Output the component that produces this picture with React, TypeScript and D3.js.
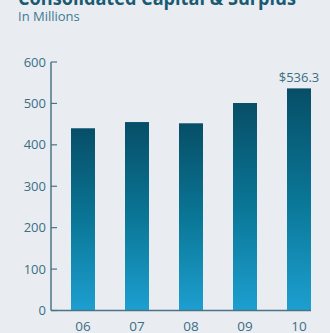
import React from "react";
import * as d3 from "d3";

const years = ["06", "07", "08", "09", "10"];
const values = [440, 455, 452, 501, 536.3];
const yTicks = [0, 100, 200, 300, 400, 500, 600];
const title = "Consolidated Capital & Surplus";
const subtitle = "In Millions";
const lastLabel = "$536.3";

export default function App() {
  const W = 330, H = 333;
  const x = d3.scaleBand<string>().domain(years).range([44, 338]).paddingInner(30 / 54).paddingOuter(0.5);
  const y = d3.scaleLinear().domain([0, 600]).range([310.5, 62]);
  const textColor = "#3b6e85";
  const axisColor = "#4a7486";
  const font = "'Open Sans', 'Noto Sans', sans-serif";
  return (
    <svg width={W} height={H} style={{ position: "absolute", left: 0, top: 0, background: "#e9edf2" }} fontFamily={font}>
      <defs>
        <linearGradient id="barGrad" x1="0" y1="0" x2="0" y2="1">
          <stop offset="0%" stopColor="#074e67" />
          <stop offset="50%" stopColor="#0a7696" />
          <stop offset="100%" stopColor="#1d9fd0" />
        </linearGradient>
      </defs>
      <rect x={0} y={0} width={W} height={H} fill="#e9edf2" />
      <text x={18} y={5} fontSize={20} fontWeight="bold" fill="#1b5a73" textLength={278} lengthAdjust="spacingAndGlyphs">{title}</text>
      <text x={18} y={21} fontSize={13} fill="#3f7a90">{subtitle}</text>
      {values.map((v, i) => (
        <rect key={years[i]} x={x(years[i])} width={x.bandwidth()} y={y(v)} height={y(0) - y(v)} fill="url(#barGrad)" />
      ))}
      <line x1={51} x2={51} y1={y(600)} y2={y(0)} stroke={axisColor} strokeWidth={1.5} />
      <line x1={51} x2={(x(years[4]) as number) + x.bandwidth()} y1={y(0)} y2={y(0)} stroke={axisColor} strokeWidth={1.5} />
      {yTicks.map(t => (
        <g key={t}>
          <line x1={51} x2={57} y1={y(t)} y2={y(t)} stroke={axisColor} strokeWidth={1.2} />
          <text x={46} y={y(t) + 4.5} fontSize={13} textAnchor="end" fill={textColor}>{t}</text>
        </g>
      ))}
      {years.map(yr => (
        <text key={yr} x={(x(yr) as number) + x.bandwidth() / 2} y={331} fontSize={13.5} textAnchor="middle" fill={textColor}>{yr}</text>
      ))}
      <text x={(x(years[4]) as number) + x.bandwidth() / 2} y={y(values[4]) - 6} fontSize={13} textAnchor="middle" fill={textColor}>{lastLabel}</text>
    </svg>
  );
}
